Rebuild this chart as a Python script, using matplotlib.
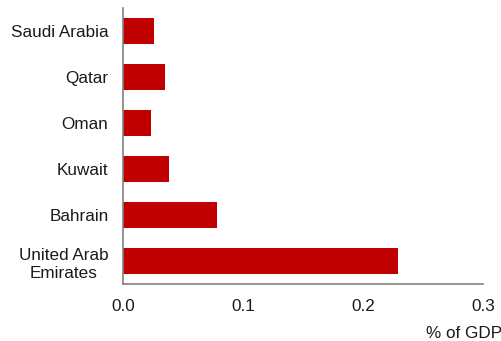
import matplotlib
matplotlib.use("Agg")
import matplotlib.pyplot as plt

plt.rcParams['font.family'] = ['Liberation Sans', 'DejaVu Sans']

## countries, top to bottom as in the chart
countries = ["Saudi Arabia", "Qatar", "Oman", "Kuwait", "Bahrain", "United Arab\nEmirates"]
values = [0.026, 0.035, 0.023, 0.038, 0.078, 0.229]

fig = plt.figure(figsize=(5.01, 3.41), dpi=100)
ax = fig.add_axes([0.2455, 0.167, 0.7185, 0.8095])

pos = list(range(len(countries)))[::-1]
ax.barh(pos, values, height=0.55, color="#c00000")

ax.set_xlim(0, 0.3)
ax.set_ylim(-0.5, 5.5)
ax.set_xticks([0.0, 0.1, 0.2, 0.3])
ax.set_xticklabels(["0.0", "0.1", "0.2", "0.3"])
ax.set_yticks(pos)
ax.set_yticklabels(countries, linespacing=1.25)
for lab in ax.get_yticklabels():
    lab.set_multialignment("center")
ax.tick_params(length=0, labelsize=12.3, colors="#1a1a1a")
ax.tick_params(axis="x", pad=11)
ax.tick_params(axis="y", pad=10.5)

for s in ["top", "right"]:
    ax.spines[s].set_visible(False)
for s in ["left", "bottom"]:
    ax.spines[s].set_color("#808080")
    ax.spines[s].set_linewidth(1.2)

fig.text(1.002, 0.0, "% of GDP", ha="right", va="bottom", fontsize=12.3, color="#1a1a1a")

fig.savefig("out.png", dpi=100)
